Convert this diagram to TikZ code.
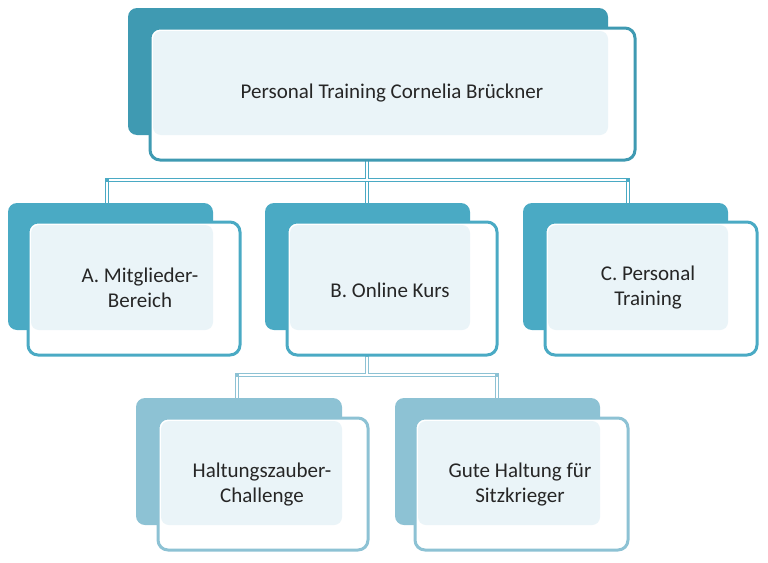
\documentclass[tikz,border=0pt]{standalone}
\usepackage{fontspec}
\setmainfont{Carlito}
\definecolor{c1}{HTML}{3F9AB2}
\definecolor{c2}{HTML}{4AAAC4}
\definecolor{c3}{HTML}{8DC2D4}
\definecolor{lt}{HTML}{EAF4F8}
\tikzset{
 backbox/.style={rounded corners=9pt},
 frontbox/.style={rounded corners=10pt,line width=3pt,fill=white},
 lbl/.style={align=center,font=\fontsize{21}{25}\selectfont,text=black!85},
 conn/.style={line width=4pt,line cap=rect}
}
\newcommand{\orgbox}[6]{% name, color, back x1 y1, front offsets ... simplified
}
\begin{document}
\begin{tikzpicture}[x=1pt,y=-1pt]
\useasboundingbox (0,0) rectangle (768,562);
% connectors
\foreach \col/\a/\b/\c/\xs/\ys/\ye in {c1/367/107/628/0/0/0}{}
\draw[conn,c2] (367,150) -- (367,180) (107,180) -- (628,180) (107,180) -- (107,210) (367,180) -- (367,210) (628,180) -- (628,210);
\draw[line width=1.5pt,white] (367,158) -- (367,180) (109,180) -- (626,180) (107,182) -- (107,210) (367,182) -- (367,210) (628,182) -- (628,210);
\draw[conn,c3] (367,345) -- (367,375) (237,375) -- (497,375) (237,375) -- (237,405) (497,375) -- (497,405);
\draw[line width=1.5pt,white] (367,357) -- (367,375) (239,375) -- (495,375) (237,377) -- (237,405) (497,377) -- (497,405);
% boxes: back, front, overlap, text
\foreach \col/\bx/\by/\bX/\bY/\fx/\fy/\fX/\fY in {
 c1/128/8/608/135/150/28/635/160,
 c2/8/203/213/330/28/222/240/355,
 c2/265/203/470/330/287/222/497/355,
 c2/523/203/728/330/545/222/757/355,
 c3/136/398/342/525/158/418/368/550,
 c3/395/398/600/525/415/418/628/550}{
 \fill[\col,backbox] (\bx,\by) rectangle (\bX,\bY);
 \draw[\col,frontbox] (\fx,\fy) rectangle (\fX,\fY);
 \fill[lt,rounded corners=8pt] (\fx+3,\fy+3) rectangle (\bX,\bY);
}
\node[lbl] (t) at (392,93) {Personal Training Cornelia Brückner};
\node[lbl] (a) at (140,288) {A. Mitglieder-\\Bereich};
\node[lbl] (b) at (390,290) {B. Online Kurs};
\node[lbl] (c) at (648,288) {C. Personal\\Training};
\node[lbl] (h) at (262,485) {Haltungszauber-\\Challenge};
\node[lbl] (g) at (520,485) {Gute Haltung für\\Sitzkrieger};
\end{tikzpicture}
\end{document}
